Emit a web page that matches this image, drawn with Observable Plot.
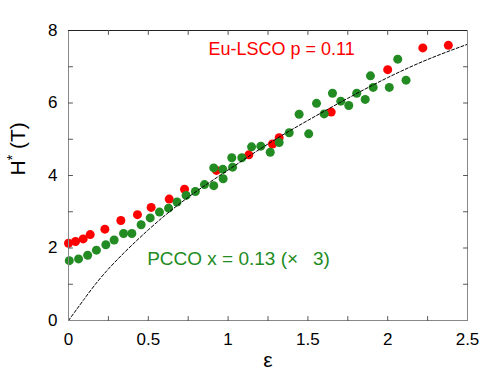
<!DOCTYPE html>
<html>
<head>
<meta charset="utf-8">
<script src="https://cdn.jsdelivr.net/npm/d3@7"></script>
<script src="https://cdn.jsdelivr.net/npm/@observablehq/plot@0.6"></script>
<style>
  html, body { margin: 0; padding: 0; background: white; }
</style>
</head>
<body>
<div id="chart"></div>
<script>
// Eu-LSCO p = 0.11 (red)
const euX = [0.0, 0.044, 0.092, 0.136, 0.228, 0.328, 0.432, 0.518, 0.631, 0.727, 0.927, 1.13, 1.278, 1.32, 1.646, 2.0, 2.22, 2.38];
const euY = [2.13, 2.18, 2.25, 2.37, 2.52, 2.76, 2.92, 3.12, 3.35, 3.62, 4.14, 4.57, 4.87, 5.04, 5.75, 6.92, 7.52, 7.59];

// PCCO x = 0.13 (x3) (green)
const pccoX = [0.005, 0.063, 0.12, 0.175, 0.234, 0.286, 0.345, 0.397, 0.455, 0.512, 0.57, 0.627, 0.68, 0.737, 0.795, 0.852, 0.91, 0.91, 0.967, 0.969, 1.023, 1.028, 1.086, 1.147, 1.205, 1.264, 1.32, 1.383, 1.445, 1.505, 1.554, 1.602, 1.654, 1.706, 1.756, 1.806, 1.859, 1.892, 1.909, 2.01, 2.063, 2.115];
const pccoY = [1.65, 1.70, 1.80, 1.94, 2.09, 2.22, 2.40, 2.40, 2.64, 2.83, 2.99, 3.10, 3.27, 3.45, 3.56, 3.75, 3.72, 4.21, 4.17, 3.91, 4.49, 4.23, 4.49, 4.79, 4.81, 4.64, 4.91, 5.18, 5.69, 5.15, 5.99, 5.70, 6.27, 6.05, 5.93, 6.27, 6.10, 6.75, 6.43, 6.43, 7.21, 6.63];

// dashed fit curve
const fitX = [0, 0.1, 0.25, 0.5, 0.75, 1.0, 1.25, 1.5, 1.75, 2.0, 2.25, 2.5];
const fitY = [0, 0.6, 1.42, 2.5, 3.4, 4.15, 4.87, 5.52, 6.13, 6.7, 7.2, 7.62];

// ticks
const xLabelTicks = [0, 0.5, 1, 1.5, 2, 2.5];
const xMinorTicks = [0.25, 0.5, 0.75, 1, 1.25, 1.5, 1.75, 2, 2.25];
const yLabelTicks = [0, 2, 4, 6, 8];
const yMinorTicks = [1, 2, 3, 4, 5, 6, 7];

const euLabel = "Eu-LSCO p = 0.11";
const pccoLabel = "PCCO x = 0.13 (\u00d7\u2002 3)";
const yTitle = "H* (T)";
const xTitle = "\u03b5";

const eu = euX.map((x, i) => ({x, y: euY[i]}));
const pcco = pccoX.map((x, i) => ({x, y: pccoY[i]}));
const fit = fitX.map((x, i) => ({x, y: fitY[i]}));

const red = "#ff0000";
const green = "#228b22";

const tickShape = {draw(context, l) { context.moveTo(0, 0); context.lineTo(0, -l); }};
const tickOpts = {length: 4, anchor: "start", shape: tickShape, stroke: "#555", strokeWidth: 1};

const chart = Plot.plot({
  width: 485,
  height: 374,
  marginLeft: 68,
  marginRight: 18,
  marginTop: 30,
  marginBottom: 54,
  x: {domain: [0, 2.5]},
  y: {domain: [0, 8]},
  style: {fontFamily: "'Liberation Sans', Arial, sans-serif", fontSize: "17px", background: "white", color: "black"},
  marks: [
    Plot.dot(eu, {x: "x", y: "y", r: 4.5, fill: red, stroke: "none"}),
    Plot.dot(pcco, {x: "x", y: "y", r: 4.5, fill: green, stroke: "none"}),
    Plot.line(fit, {x: "x", y: "y", curve: "natural", stroke: "black", strokeWidth: 1, strokeDasharray: "3,2"}),
    Plot.frame({stroke: "#888"}),
    Plot.ruleY([8], {stroke: "#222"}),
    // inward ticks
    Plot.vector(xMinorTicks, {x: d => d, frameAnchor: "bottom", rotate: 0, ...tickOpts}),
    Plot.vector(xMinorTicks, {x: d => d, frameAnchor: "top", rotate: 180, ...tickOpts}),
    Plot.vector(yMinorTicks, {y: d => d, frameAnchor: "left", rotate: 90, ...tickOpts}),
    Plot.vector(yMinorTicks, {y: d => d, frameAnchor: "right", rotate: 270, ...tickOpts}),
    // tick labels
    Plot.axisX(xLabelTicks, {anchor: "bottom", tickSize: 0, tickPadding: 12, tickFormat: d => String(d), label: null, fill: "black"}),
    Plot.axisY(yLabelTicks, {anchor: "left", tickSize: 0, tickPadding: 11, tickFormat: d => String(d), label: null, fill: "black"}),
    // axis titles
    Plot.text([yTitle], {frameAnchor: "left", dx: -50, rotate: -90, fontSize: 21, fill: "black"}),
    Plot.text([xTitle], {frameAnchor: "bottom", dy: 46, fontSize: 21, fill: "black"}),
    // annotations
    Plot.text([euLabel], {x: 1.335, y: 7.48, fill: red, fontSize: 18}),
    Plot.text([pccoLabel], {x: 1.065, y: 1.71, fill: green, fontSize: 19})
  ]
});

document.getElementById("chart").appendChild(chart);

// superscript asterisk on H*
d3.select(chart).selectAll("text").each(function() {
  if (this.textContent === yTitle) {
    const t = d3.select(this);
    t.text(null);
    t.append("tspan").text("H");
    t.append("tspan").attr("dy", "-8").attr("font-size", "14").text("*");
    t.append("tspan").attr("dy", "8").text(" (T)");
  }
});
</script>
</body>
</html>
